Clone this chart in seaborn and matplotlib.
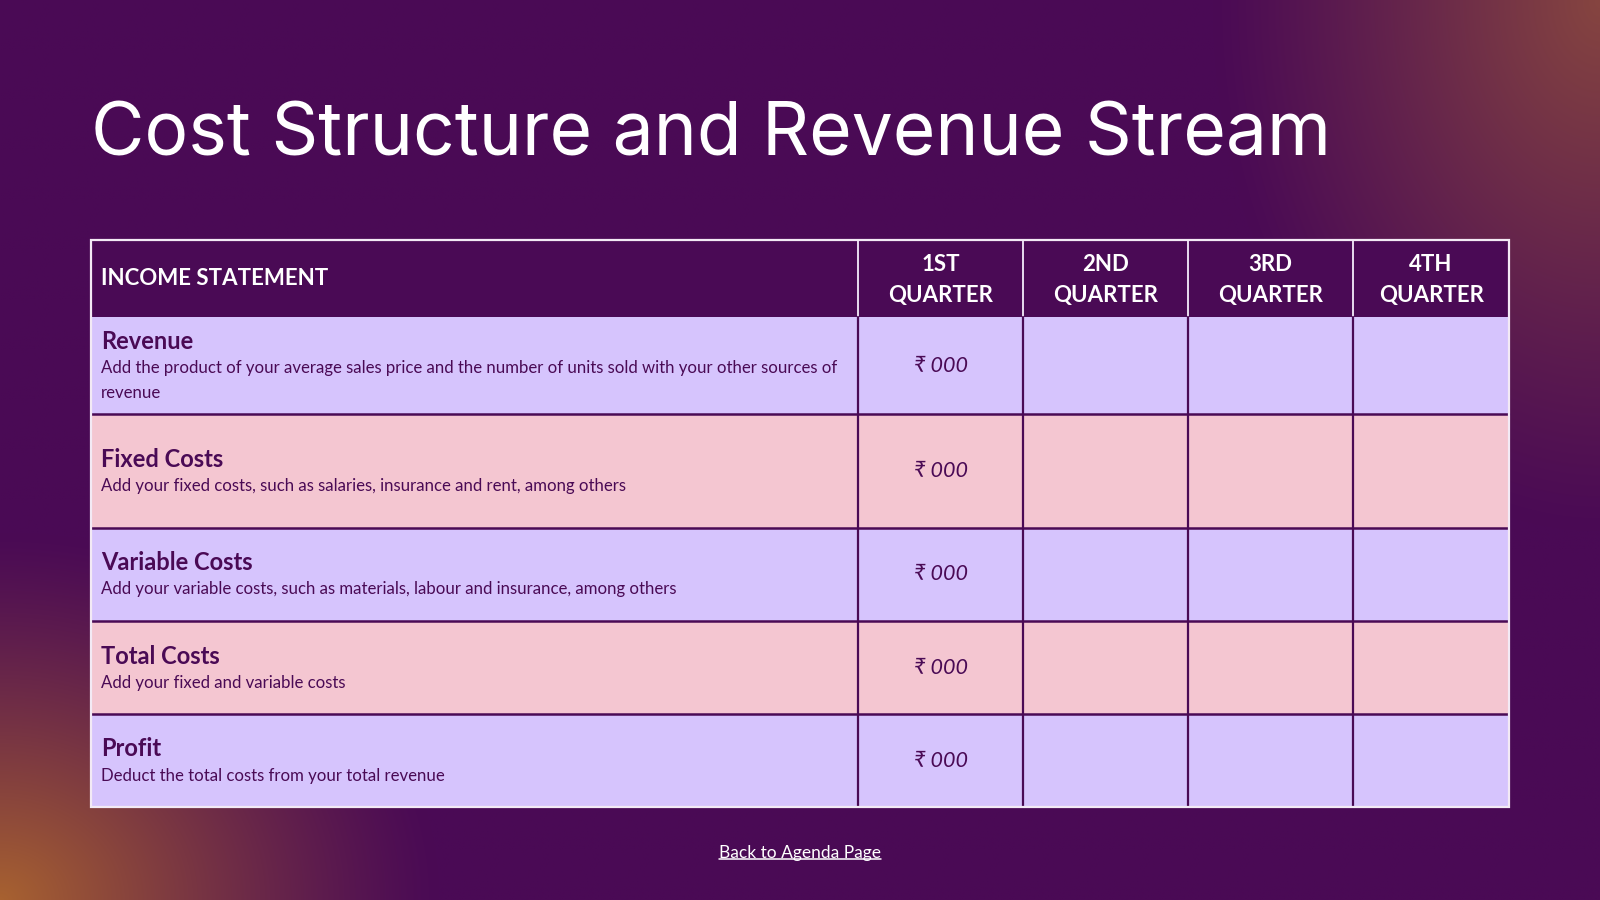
import numpy as np
import matplotlib.pyplot as plt
from matplotlib.patches import Rectangle
import seaborn as sns

title = 'Cost Structure and Revenue Stream'
header_first = 'INCOME STATEMENT'
quarters = ['1ST\nQUARTER', '2ND\nQUARTER', '3RD\nQUARTER', '4TH\nQUARTER']
row_titles = ['Revenue', 'Fixed Costs', 'Variable Costs', 'Total Costs', 'Profit']
row_desc = [
    'Add the product of your average sales price and the number of units sold with your other sources of\nrevenue',
    'Add your fixed costs, such as salaries, insurance and rent, among others',
    'Add your variable costs, such as materials, labour and insurance, among others',
    'Add your fixed and variable costs',
    'Deduct the total costs from your total revenue',
]
q1_values = ['₹ 000', '₹ 000', '₹ 000', '₹ 000', '₹ 000']
footer = 'Back to Agenda Page'

W, H = 1568, 882
BG = '#4a0a55'
LAV = '#d6c4fd'
PINK = '#f4c6d1'
DARK = '#4a0a55'
FONT = ['Lato', 'DejaVu Sans']

sns.set_theme(style='white')
plt.rcParams['font.family'] = FONT

fig = plt.figure(figsize=(16, 9), dpi=100)
ax = fig.add_axes([0, 0, 1, 1])
ax.set_xlim(0, W)
ax.set_ylim(H, 0)
ax.axis('off')

# background: dark purple with warm glows in two corners
yy, xx = np.mgrid[0:H, 0:W]
base = np.array([0x4a, 0x0a, 0x55]) / 255
orange = np.array([0xa8, 0x62, 0x30]) / 255
brown = np.array([0x86, 0x45, 0x40]) / 255
d1 = np.sqrt((xx / 430.0) ** 2 + ((H - yy) / 360.0) ** 2)
d2 = np.sqrt(((W - xx) / 380.0) ** 2 + (yy / 520.0) ** 2)
w1 = np.clip(1 - d1, 0, 1) ** 1.2
w2 = np.clip(1 - d2, 0, 1) ** 1.1
img = base[None, None, :] * np.ones((H, W, 1))
img = img * (1 - w1[..., None]) + orange * w1[..., None]
img = img * (1 - w2[..., None]) + brown * w2[..., None]
ax.imshow(img, extent=[0, W, H, 0], aspect='auto', zorder=0)

ax.text(89, 152, title, color='white', fontsize=52.6, va='baseline', ha='left',
        family=['Inter', 'DejaVu Sans'], fontweight='normal', zorder=3)

# table geometry
col_edges = [89, 841, 1003, 1164, 1326, 1479]
row_edges = [235, 311, 406, 517, 609, 700, 791]
fills = [LAV, PINK, LAV, PINK, LAV]

ax.add_patch(Rectangle((col_edges[0], row_edges[0]), col_edges[-1] - col_edges[0],
                       row_edges[1] - row_edges[0], facecolor=BG, edgecolor='none', zorder=1))
for i, fc in enumerate(fills):
    ax.add_patch(Rectangle((col_edges[0], row_edges[i + 1]), col_edges[-1] - col_edges[0],
                           row_edges[i + 2] - row_edges[i + 1], facecolor=fc,
                           edgecolor='none', zorder=1))

# inner grid lines
for x in col_edges[1:-1]:
    ax.plot([x, x], [row_edges[0], row_edges[1]], color='#e8dcef', lw=1.4, zorder=2)
    ax.plot([x, x], [row_edges[1], row_edges[-1]], color=DARK, lw=1.6, zorder=2)
for y in row_edges[2:-1]:
    ax.plot([col_edges[0], col_edges[-1]], [y, y], color=DARK, lw=1.8, zorder=2)
ax.add_patch(Rectangle((col_edges[0], row_edges[0]), col_edges[-1] - col_edges[0],
                       row_edges[-1] - row_edges[0], facecolor='none',
                       edgecolor='#f3eaf5', lw=1.6, zorder=3))

# header text
hmid = (row_edges[0] + row_edges[1]) / 2
ax.text(99, hmid, header_first, color='white',
        fontsize=16, fontweight='bold', va='center', ha='left', zorder=4)
for j, q in enumerate(quarters):
    cx = (col_edges[j + 1] + col_edges[j + 2]) / 2
    for k, part in enumerate(q.split('\n')):
        ax.text(cx, hmid - 14 + 31 * k, part, color='white', fontsize=16,
                fontweight='bold', va='center', ha='center', zorder=4)

# body rows
for i in range(len(row_titles)):
    top, bot = row_edges[i + 1], row_edges[i + 2]
    mid = (top + bot) / 2
    lines = row_desc[i].split('\n')
    ty = mid + 1.5 - (26 + 24 * (len(lines) - 1)) / 2
    ax.text(99, ty, row_titles[i], color=DARK, fontsize=17, fontweight='bold',
            va='center', ha='left', zorder=4)
    for k, line in enumerate(lines):
        ax.text(99, ty + 26 + 24 * k, line, color=DARK, fontsize=12.05, va='center',
                ha='left', zorder=4)
    cx = (col_edges[1] + col_edges[2]) / 2
    ax.text(cx, mid, q1_values[i], color=DARK, fontsize=15.5, style='italic',
            va='center', ha='center', zorder=4)

ft = ax.text(W / 2, 836, footer, color='white', fontsize=12.5, va='center', ha='center', zorder=4)
fig.canvas.draw()
bb = ft.get_window_extent().transformed(ax.transData.inverted())
uy = max(bb.y0, bb.y1) - 2
ax.plot([bb.x0, bb.x1], [uy, uy], color='white', lw=1.1, zorder=4)

fig.savefig('out.png', dpi=100)
